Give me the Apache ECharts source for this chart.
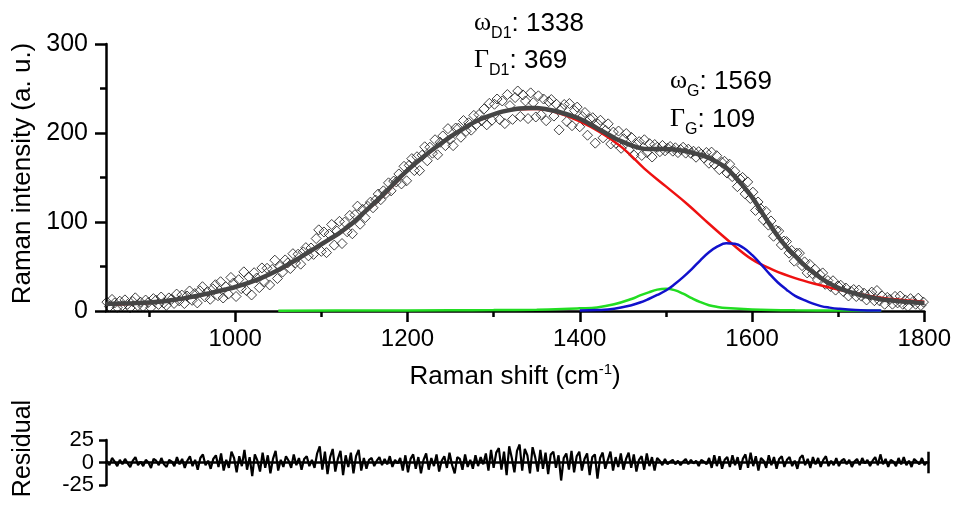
<!DOCTYPE html>
<html><head><meta charset="utf-8">
<script src="https://cdn.jsdelivr.net/npm/echarts@6/dist/echarts.min.js"></script>
<style>html,body{margin:0;padding:0;background:#fff}#c{width:954px;height:515px}</style>
</head><body><div id="c"></div>
<script>
// ---------------- data ----------------
const xTicks = [1000, 1200, 1400, 1600, 1800];
const xMinorTicks = [900, 1100, 1300, 1500, 1700];
const yTicks = [0, 100, 200, 300];
const residualTicks = [-25, 0, 25];

// measured spectrum: Raman shift grid start/step (cm-1) and intensities
const shiftStart = 851, shiftStep = 3;
const intensity = [
10,5,13,9,4,11,6,12.5,7.5,3.5,10.7,14.8,6,10,5,12.3,9.5,3.7,13.9,12.1,
7.4,15.7,9,6.3,14.7,13.1,8.5,19,11.4,17.9,8.4,16.9,22.5,12,19.6,9.1,22.7,27.3,15.9,21.6,
13.2,24.9,29.5,17.2,32.9,14.6,27.3,19,37.7,31.5,16.3,35.2,25.1,44,23,38,18,43,37.1,26.3,
48.4,32.7,48,29.3,46.7,57.1,36.5,50.1,43.7,57.4,54,47.7,64.4,54,63.8,52.6,66.4,71.2,62,70.8,
63.6,81.4,91.2,67,88.8,65.6,86.4,97.2,74,89.8,100.7,75.8,99.9,89,107.4,86.8,108.2,117.8,97.5,114.2,
104.9,117.6,122.3,116,124.7,131.4,125.1,135,132,144,135,146,145,154,142.8,162.6,146.3,163.7,171.2,157.8,
173.3,157.7,175.1,184.5,168.8,184,177.3,192.4,175.5,189.6,196.7,185.8,204.9,193,185.8,205.6,205.4,195.2,214,201.8,
211.5,203.2,219.8,209.5,220.7,213.9,227.1,209.2,233.3,214.3,232.3,238.2,215.1,236,210.6,243.2,230.8,215.3,239.8,247.2,
218.6,242.8,236,216.2,245.1,234.1,218,241.8,220.5,238.2,213.8,235.2,237.6,219,232.3,203.5,227.8,232,213,233.1,
208.2,225.1,229.1,207,218.5,223,197.5,215.9,217.2,188.6,210,214.3,194.6,203,210.3,187.7,201,188.5,202.2,182.8,
193.6,199.4,181.2,195,175.1,187.2,190.3,174.8,192.4,178.1,188,173,187,184,179,186,180,182.9,184.8,179.6,
183.4,178,181.5,184,177.4,181.8,177.2,179.5,172.8,179,176.2,172.1,178.1,166,178.5,165,174.5,158.8,167,168.2,
155,165,151,157,139.7,148.4,150.1,131.6,145,126.4,133.5,113,122.5,115,102.5,112,96.5,101.2,84,90.8,
89.8,74.2,78.6,78,65,68,56,65,65,51,55.2,42.8,52.4,42,46.9,34.8,40.7,42.8,30,34.2,
27.5,34,23.5,28,28.9,21.9,25.8,16.9,22,24.1,16.3,23.5,16.7,20,12.4,17.8,21.2,11.6,23,11.4,
16.9,7.6,15.3,13,7.7,16.4,9.1,16.8,7.6,12.4,5.1,13.9,10.8,7.6,14.4,6.2,10
];
const residual = [
2,-3,5,1,-4,3,-2,4,-1,-5,2,6,-3,1,-4,3,0,-6,4,2,
-3,5,-2,-5,3,1,-4,6,-2,4,-6,2,7,-4,3,-8,5,9,-3,2,
-7,4,8,-5,10,-9,3,-6,12,5,-11,7,-4,14,-8,6,-15,9,2,-10,
11,-6,8,-12,4,13,-9,3,-5,7,2,-6,9,-3,5,-8,4,7,-4,3,
-6,10,18,-8,12,-13,6,15,-10,4,13,-14,8,-5,11,-12,7,14,-9,5,
-7,3,5,-4,2,6,-3,4,-2,7,-5,3,-1,5,-9,8,-11,4,9,-7,
6,-12,3,10,-8,5,-4,9,-10,2,7,-6,11,-3,-12,6,4,-8,9,-5,
3,-7,8,-4,6,-2,10,-9,14,-6,11,16,-8,12,-14,18,5,-11,13,20,
-9,15,8,-12,17,6,-10,14,-7,11,-13,9,12,-6,8,-20,5,10,-8,13,
-11,7,12,-9,4,10,-14,6,9,-18,5,11,-7,3,12,-9,6,-5,10,-8,
4,11,-6,9,-10,3,7,-8,10,-4,6,-9,5,2,-3,4,-2,1,3,-2,
2,-3,1,4,-2,3,-1,2,-4,3,1,-2,5,-6,8,-4,7,-7,3,6,
-5,8,-3,6,-8,4,9,-6,11,-4,7,-9,5,2,-6,8,-3,6,-7,4,
7,-5,3,6,-4,2,-7,5,8,-3,4,-6,6,-2,5,-5,3,7,-4,2,
-3,5,-4,2,4,-2,3,-5,1,4,-3,5,-1,3,-4,2,6,-3,9,-2,
4,-5,3,1,-4,5,-2,6,-3,2,-5,4,1,-2,5,-3,1
];

// cumulative fit
const fitShift = [850,860,870,880,890,900,910,920,930,940,950,960,970,980,990,1000,1010,1020,1030,1040,1050,1060,1070,1080,1090,1100,1110,1120,1130,1140,1150,1160,1170,1180,1190,1200,1210,1220,1230,1240,1250,1260,1270,1280,1290,1300,1310,1320,1330,1340,1350,1360,1370,1380,1390,1400,1410,1420,1430,1440,1450,1460,1470,1480,1490,1500,1510,1520,1530,1540,1550,1560,1570,1580,1590,1600,1610,1620,1630,1640,1650,1660,1670,1680,1690,1700,1710,1720,1730,1740,1750,1760,1770,1780,1790,1800];
const fitIntensity = [8,8.2,8.4,8.7,9.1,9.5,10.3,11.3,12.6,14.2,16,17.9,20,22.2,24.5,27,30,33.3,37,41.3,46,51.5,57,63,69,75,81,87,94,102,111,120,129,139,149,158,166.5,174.5,182,189,196,202,208,213.5,217.5,221,224,226,227.5,228.2,228,227,225,222.5,219.5,216,211,205.5,200,194.5,190,186,183,182,182,182,181.5,180,178,175.5,172,167,161,151,140,128,113,98,84,72,62,52,44,37,31,26,22.5,19.5,17,15,13,12,11,10.2,9.6,9];

// D1 band (red)
const d1Shift = [850,875,900,925,950,975,1000,1025,1050,1075,1100,1125,1150,1175,1200,1225,1250,1275,1300,1325,1350,1375,1400,1425,1450,1475,1500,1525,1550,1575,1600,1625,1650,1675,1700,1725,1750,1775,1800];
const d1Intensity = [7,7.8,9,11.5,15.5,20.5,26.5,34.5,45.5,59.5,74.5,89.5,110.5,132.5,157.5,177.5,195.5,210.5,220.5,226.5,227,222.5,213,200,183,160,140,120,98,77,58,46,37,30,24,19,15,12.5,10.5];

// ~1500 band (green)
const d3Shift = [1050,1150,1250,1300,1350,1380,1400,1420,1440,1460,1470,1480,1490,1500,1510,1520,1530,1540,1550,1560,1570,1600,1650,1700,1750];
const d3Intensity = [0.3,0.5,0.8,1,1.5,2.2,3,4,7.5,13.5,17.5,21,24,25,23.5,19.5,14.5,10,6.5,4.5,3.3,1.8,0.8,0.5,0.3];

// G band (blue)
const gShift = [1400,1420,1440,1460,1470,1480,1490,1500,1510,1520,1530,1540,1550,1560,1570,1580,1590,1600,1610,1620,1630,1640,1650,1660,1670,1680,1690,1700,1720,1750];
const gIntensity = [0.5,1,2.5,6.5,9.5,13.5,18,23,30,38,47,57,66,72.5,76,75.5,71,63,53,42,32,24,17,12.5,8.5,5.5,3.8,2.6,1.2,0.5];

// peak annotations: [symbol, subscript, value]
const peakLabels = [['ω','D1','1338'], ['Γ','D1','369'], ['ω','G','1569'], ['Γ','G','109']];

// ---------------- chart ----------------
const SANS = '"Liberation Sans", Arial, sans-serif';
const SERIF = '"Liberation Serif", "Times New Roman", serif';
const pair = (xs, ys) => ys.map((v, i) => [xs[i], v]);
const spectrum = intensity.map((v, i) => [shiftStart + i * shiftStep, v]);
const residualData = residual.map((v, i) => [shiftStart + i * shiftStep, v]);
const plain = v => String(v);

const ctx = document.createElement('canvas').getContext('2d');
const measure = (t, f) => { ctx.font = f; return ctx.measureText(t).width; };

const peakLabelPos = [[474, 32], [474, 69], [670, 90], [670, 128]];
const symSize = 26, subSize = 16, mainSize = 26, subDrop = 7;
const graphics = [];
peakLabels.forEach((lab, i) => {
  const [x0, base] = peakLabelPos[i];
  const fSym = symSize + 'px ' + SERIF, fSub = subSize + 'px ' + SANS, fMain = mainSize + 'px ' + SANS;
  let cx = x0;
  graphics.push({type:'text', x:cx, y:base - 0.33*symSize, style:{text:lab[0], font:fSym, fill:'#000', align:'left', verticalAlign:'middle'}});
  cx += measure(lab[0], fSym);
  graphics.push({type:'text', x:cx, y:base + subDrop - 0.33*subSize, style:{text:lab[1], font:fSub, fill:'#000', align:'left', verticalAlign:'middle'}});
  cx += measure(lab[1], fSub);
  graphics.push({type:'text', x:cx, y:base - 0.33*mainSize, style:{text:': ' + lab[2], font:fMain, fill:'#000', align:'left', verticalAlign:'middle'}});
});

const AX = '#000', AW = 2.5;
const chart = echarts.init(document.getElementById('c'), null, {renderer:'canvas'});
chart.setOption({
  animation: false,
  backgroundColor: '#fff',
  grid: [
    {left:106, right:26, top:44, height:267},
    {left:106, right:26, top:440, height:45}
  ],
  xAxis: [
    {type:'value', gridIndex:0, min:850, max:1800, position:'bottom',
     name:'{a|Raman shift (cm}{s|-1}{a|)}', nameLocation:'middle', nameGap:51,
     nameTextStyle:{rich:{a:{fontFamily:SANS, fontSize:26, color:'#000', lineHeight:30}, s:{fontFamily:SANS, fontSize:15, color:'#000', verticalAlign:'top', lineHeight:15}}},
     axisLine:{show:true, onZero:false, lineStyle:{color:AX, width:AW}},
     axisTick:{show:true, customValues:xTicks, length:11, lineStyle:{color:AX, width:AW}},
     axisLabel:{show:true, customValues:xTicks, formatter:plain, margin:16, fontFamily:SANS, fontSize:24, color:'#000'},
     splitLine:{show:false}},
    {type:'value', gridIndex:0, min:850, max:1800, position:'bottom',
     axisLine:{show:false, onZero:false},
     axisTick:{show:true, customValues:xMinorTicks, length:6, lineStyle:{color:AX, width:AW}},
     axisLabel:{show:false}, splitLine:{show:false}},
    {type:'value', gridIndex:1, min:850, max:1800,
     axisLine:{show:true, onZero:true, lineStyle:{color:AX, width:AW}},
     axisTick:{show:false}, axisLabel:{show:false}, splitLine:{show:false}}
  ],
  yAxis: [
    {type:'value', gridIndex:0, min:yTicks[0], max:yTicks[yTicks.length-1], interval:100,
     name:'Raman intensity (a. u.)', nameLocation:'middle', nameGap:70,
     nameTextStyle:{fontFamily:SANS, fontSize:26, color:'#000', padding:[0,0,0,8]},
     axisLine:{show:true, lineStyle:{color:AX, width:AW}},
     axisTick:{show:true, length:11, lineStyle:{color:AX, width:AW}},
     minorTick:{show:true, splitNumber:2, length:6, lineStyle:{color:AX, width:AW}},
     axisLabel:{margin:18, formatter:plain, fontFamily:SANS, fontSize:25, color:'#000'},
     splitLine:{show:false}, minorSplitLine:{show:false}},
    {type:'value', gridIndex:1, min:residualTicks[0], max:residualTicks[2], interval:25,
     name:'Residual', nameLocation:'middle', nameGap:70,
     nameTextStyle:{fontFamily:SANS, fontSize:25, color:'#000', padding:[0,0,0,28]},
     axisLine:{show:true, lineStyle:{color:AX, width:AW}},
     axisTick:{show:true, length:7, lineStyle:{color:AX, width:AW}},
     axisLabel:{margin:12, formatter:plain, fontFamily:SANS, fontSize:22, lineHeight:18, color:'#000',
       hideOverlap:false, showMinLabel:true, showMaxLabel:true},
     splitLine:{show:false}}
  ],
  series: [
    {type:'scatter', xAxisIndex:0, yAxisIndex:0, data:spectrum, symbol:'diamond', symbolSize:10,
     itemStyle:{color:'rgba(255,255,255,0)', borderColor:'#111', borderWidth:1}, z:2},
    {type:'line', xAxisIndex:0, yAxisIndex:0, data:pair(d1Shift, d1Intensity), smooth:0.4, showSymbol:false,
     lineStyle:{color:'#ee1111', width:2.5}, z:3},
    {type:'line', xAxisIndex:0, yAxisIndex:0, data:pair(d3Shift, d3Intensity), smooth:0.4, showSymbol:false,
     lineStyle:{color:'#22dd22', width:2.5}, z:3},
    {type:'line', xAxisIndex:0, yAxisIndex:0, data:pair(gShift, gIntensity), smooth:0.4, showSymbol:false,
     lineStyle:{color:'#1111cc', width:2.5}, z:3},
    {type:'line', xAxisIndex:0, yAxisIndex:0, data:pair(fitShift, fitIntensity), smooth:0.3, showSymbol:false,
     lineStyle:{color:'#454545', width:4.5}, z:4},
    {type:'line', xAxisIndex:2, yAxisIndex:1, data:residualData, showSymbol:false,
     lineStyle:{color:'#000', width:2.2}, z:3,
     markLine:{silent:true, symbol:['none','none'], label:{show:false}, animation:false,
       lineStyle:{color:'#000', width:AW, type:'solid'},
       data:[[{coord:[xTicks[xTicks.length-1], -12]}, {coord:[xTicks[xTicks.length-1], 12]}]]}}
  ],
  graphic: graphics
});
</script>
</body></html>
